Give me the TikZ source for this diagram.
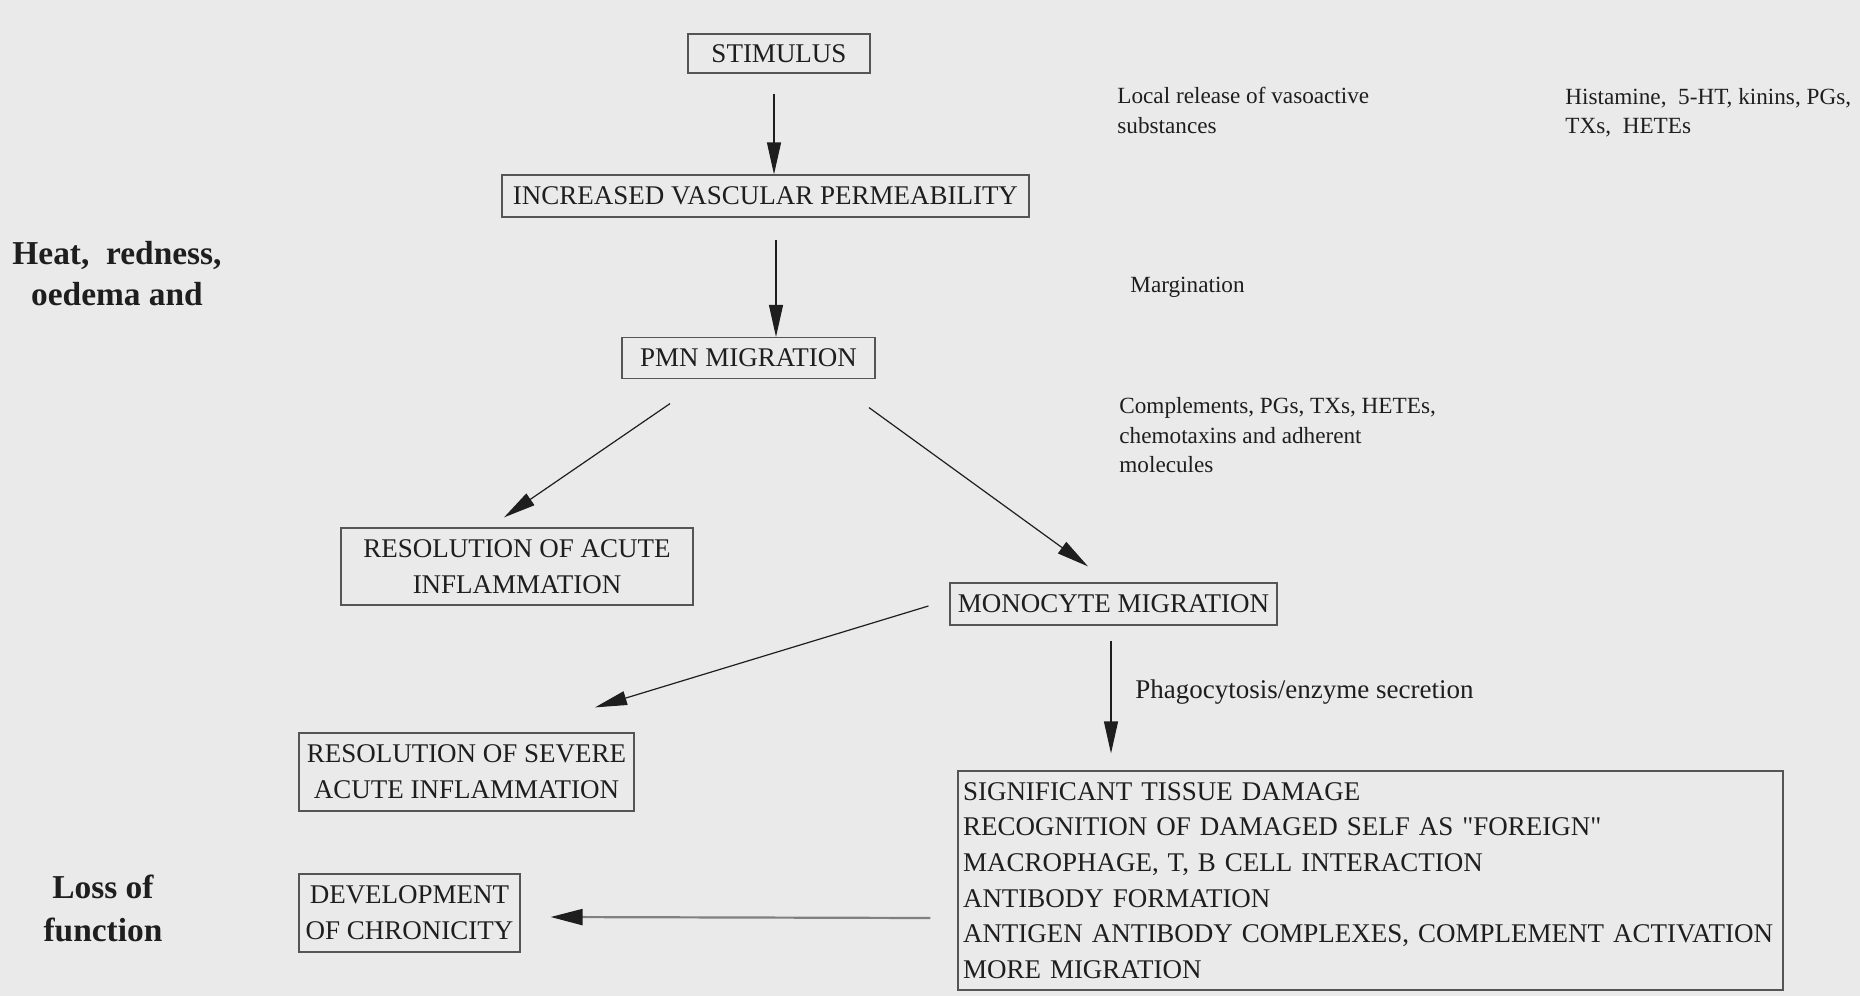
\documentclass[tikz,border=0pt]{standalone}
\usepackage{fontspec}
\setmainfont{Liberation Serif}
\usetikzlibrary{arrows.meta}
\definecolor{paper}{RGB}{234,234,234}
\definecolor{ink}{RGB}{30,30,30}
\definecolor{frame}{RGB}{85,85,85}
\tikzset{
    box/.style={draw=frame,line width=0.6pt,text=ink,align=center,inner sep=0pt,
        font=\fontsize{13.5pt}{18pt}\selectfont},
    arr/.style={draw=ink,line width=0.6pt,-{Triangle[length=16pt,width=7pt]}},
    note/.style={text=ink,align=left,inner sep=0pt,anchor=north west,
        font=\fontsize{11.6pt}{14.75pt}\selectfont},
    sign/.style={text=ink,align=center,inner sep=0pt,
        font=\bfseries\fontsize{16.7pt}{20.5pt}\selectfont}
}
\begin{document}
\begin{tikzpicture}[x=0.5pt,y=-0.5pt]
                \fill[paper] (0,0) rectangle (1860,996);
                % main chain
                \node [box,minimum width=91pt,minimum height=19.5pt] (stim) at (779,53.5) {STIMULUS};
                \node [box,minimum width=263.5pt,minimum height=21pt] (ivp) at (765.5,196) {INCREASED VASCULAR PERMEABILITY};
                \node [box,minimum width=126.5pt,minimum height=20.5pt] (pmn) at (748.5,358) {PMN MIGRATION};
                \node [box,minimum width=176pt,minimum height=38.5pt] (rac) at (517,566.5) {RESOLUTION OF ACUTE\\INFLAMMATION};
                \node [box,minimum width=163.5pt,minimum height=21pt] (mono) at (1113.5,604) {MONOCYTE MIGRATION};
                \node [box,minimum width=167.5pt,minimum height=39pt] (rsev) at (466.5,772) {RESOLUTION OF SEVERE\\ACUTE INFLAMMATION};
                \node [box,minimum width=110.5pt,minimum height=39pt] (chron) at (409.5,913) {DEVELOPMENT\\OF CHRONICITY};
                \node [box,align=left,inner xsep=2.5pt,text width=407.5pt,minimum height=109.5pt,
                    font=\fontsize{13.5pt}{17.8pt}\selectfont] (big) at (1370.5,880.5)
                    {SIGNIFICANT TISSUE DAMAGE\\
                     RECOGNITION OF DAMAGED SELF AS \textquotedbl FOREIGN\textquotedbl\\
                     MACROPHAGE, T, B CELL INTERACTION\\
                     ANTIBODY FORMATION\\
                     ANTIGEN ANTIBODY COMPLEXES, COMPLEMENT ACTIVATION\\
                     MORE MIGRATION};
                % signs
                \node [sign] (heat) at (117,274) {Heat, \ redness,\\oedema and};
                \node [sign,font=\bfseries\fontsize{16.7pt}{21.5pt}\selectfont] (loss) at (103,908) {Loss of\\function};
                % notes
                \node [note] (local) at (1117,87) {Local release of vasoactive\\substances};
                \node [note] (hist) at (1565,88) {Histamine, \ 5-HT, kinins, PGs,\\TXs, \ HETEs};
                \node [note] (marg) at (1130,277) {Margination};
                \node [note] (compl) at (1119,397) {Complements, PGs, TXs, HETEs,\\chemotaxins and adherent\\molecules};
                \node [text=ink,inner sep=0pt,anchor=base west,font=\fontsize{13.5pt}{18pt}\selectfont] (phago) at (1135,698)
                    {Phagocytosis/enzyme secretion};
                % arrows
                \draw [arr] ([xshift=-2.5pt,yshift=-10pt]stim.south) -- ([xshift=-2.5pt]stim.south |- ivp.north);
                \draw [arr] ([xshift=5.25pt,yshift=-11pt]ivp.south) -- ([xshift=5.25pt]ivp.south |- pmn.north);
                \draw [arr] ([xshift=-39.25pt,yshift=-12.25pt]pmn.south) -- ([xshift=-6.5pt,yshift=5pt]rac.north);
                \draw [arr] ([xshift=60.25pt,yshift=-14.25pt]pmn.south) -- ([xshift=-12.75pt,yshift=8pt]mono.north);
                \draw [arr] ([xshift=-10.5pt,yshift=-1pt]mono.west) -- ([xshift=64.25pt,yshift=12.5pt]rsev.north);
                \draw [arr,shorten >=8.5pt] ([xshift=-1.25pt,yshift=-7.5pt]mono.south) -- ([xshift=-1.25pt]mono.south |- big.north);
                \draw [arr,draw=gray,line width=1.1pt,-{Triangle[length=16pt,width=8pt,color=ink]}]
                    ([xshift=-13.5pt,yshift=-18.75pt]big.west) -- ([xshift=15pt,yshift=-2pt]chron.east);
\end{tikzpicture}
\end{document}
